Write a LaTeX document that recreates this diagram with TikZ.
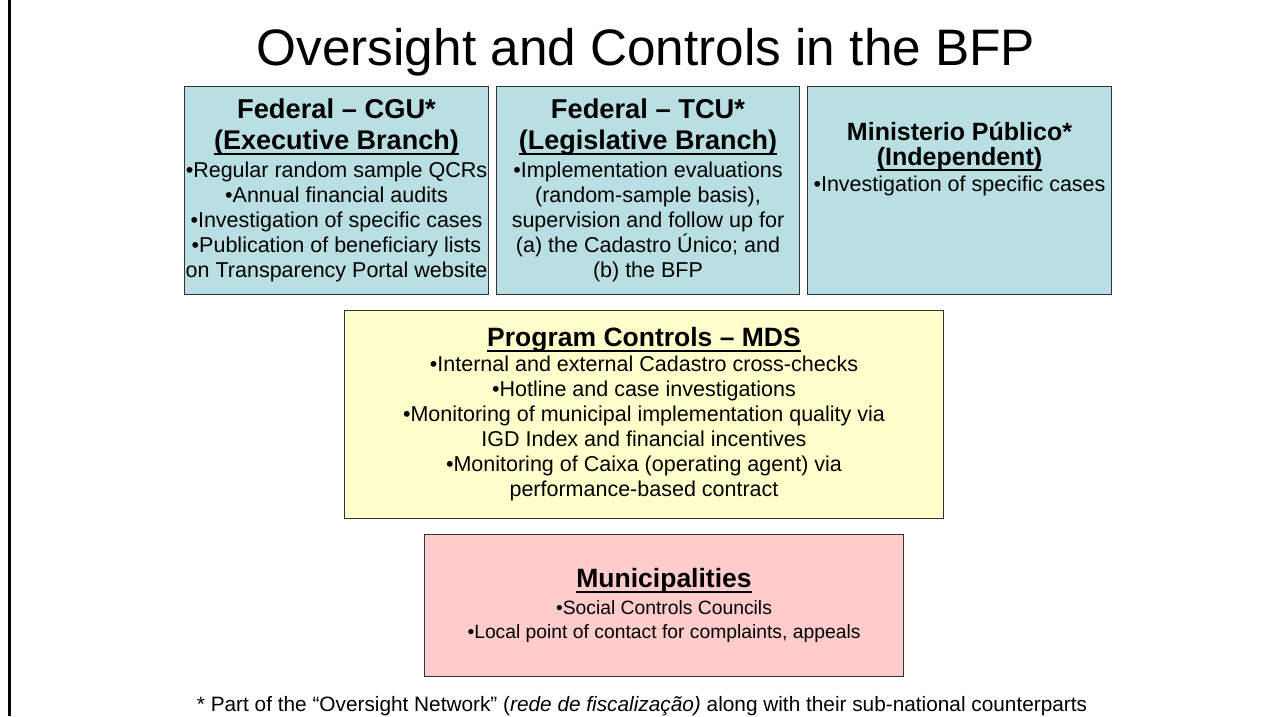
\documentclass[tikz,border=0pt]{standalone}
\usepackage{fontspec}
\setmainfont{Liberation Sans}
\usetikzlibrary{positioning}
\definecolor{fedblue}{RGB}{186,223,226}
\definecolor{mdsyellow}{RGB}{255,255,204}
\definecolor{munipink}{RGB}{255,204,204}
\newsavebox{\undrbox}
\newcommand{\undr}[1]{\sbox{\undrbox}{#1}\rlap{\rule[-5.5pt]{\wd\undrbox}{2pt}}\usebox{\undrbox}}
\newcommand{\hd}[2]{{\bfseries\fontsize{#1}{#1}\selectfont #2}}

\begin{document}
\begin{tikzpicture}[x=1pt, y=-1pt,
    panel/.style={draw=black!80, line width=1pt, inner sep=0pt, align=center},
    topbox/.style={panel, fill=fedblue, minimum width=304pt, minimum height=208pt,
        font=\fontsize{21.5}{25}\selectfont}]
    \useasboundingbox (0,0) rectangle (1285,716);
    \draw[line width=3pt] (9.5,0) -- (9.5,716);

    \node[anchor=base] (title) at (646,65) {\fontsize{51.3}{60}\selectfont Oversight and Controls in the BFP};

    % oversight bodies
    \node[topbox, anchor=north west] (cgu) at (184,86)
        {\hd{27.3}{Federal \textendash{} CGU*}\\[6pt]
         \hd{27}{\undr{(Executive Branch)}}\\[3pt]
         \textbullet Regular random sample QCRs\\
         \textbullet Annual financial audits\\
         \textbullet Investigation of specific cases\\
         \textbullet Publication of beneficiary lists\\
         on Transparency Portal website};
    \node[topbox, minimum width=303pt, right=7pt of cgu] (tcu)
        {\hd{27.3}{Federal \textendash{} TCU*}\\[6pt]
         \hd{27}{\undr{(Legislative Branch)}}\\[3pt]
         \textbullet Implementation evaluations\\
         (random-sample basis),\\
         supervision and follow up for\\
         (a) the Cadastro Único; and\\
         (b) the BFP};
    \node[topbox, right=7pt of tcu, text depth=67pt] (mp)
        {\hd{25}{Ministerio Público*}\\
         \hd{25}{\undr{(Independent)}}\\[1pt]
         \textbullet Investigation of specific cases};

    % program level
    \node[panel, fill=mdsyellow, minimum width=599pt, minimum height=208pt,
        font=\fontsize{21.5}{25}\selectfont, below=15pt of tcu, xshift=-4pt] (mds)
        {\hd{26.5}{\undr{Program Controls \textendash{} MDS}}\\
         \textbullet Internal and external Cadastro cross-checks\\
         \textbullet Hotline and case investigations\\
         \textbullet Monitoring of municipal implementation quality via\\
         IGD Index and financial incentives\\
         \textbullet Monitoring of Caixa (operating agent) via\\
         performance-based contract};
    \node[panel, fill=munipink, minimum width=479pt, minimum height=142pt,
        font=\fontsize{19.3}{24.7}\selectfont, below=15pt of mds, xshift=20pt] (muni)
        {\hd{26.5}{\undr{Municipalities}}\\[2pt]
         \textbullet Social Controls Councils\\
         \textbullet Local point of contact for complaints, appeals};

    \node[anchor=base, font=\fontsize{20.8}{25}\selectfont] (note) at (642,711)
        {* Part of the ``Oversight Network'' (\textit{rede de fiscalização)} along with their sub-national counterparts};
\end{tikzpicture}
\end{document}
